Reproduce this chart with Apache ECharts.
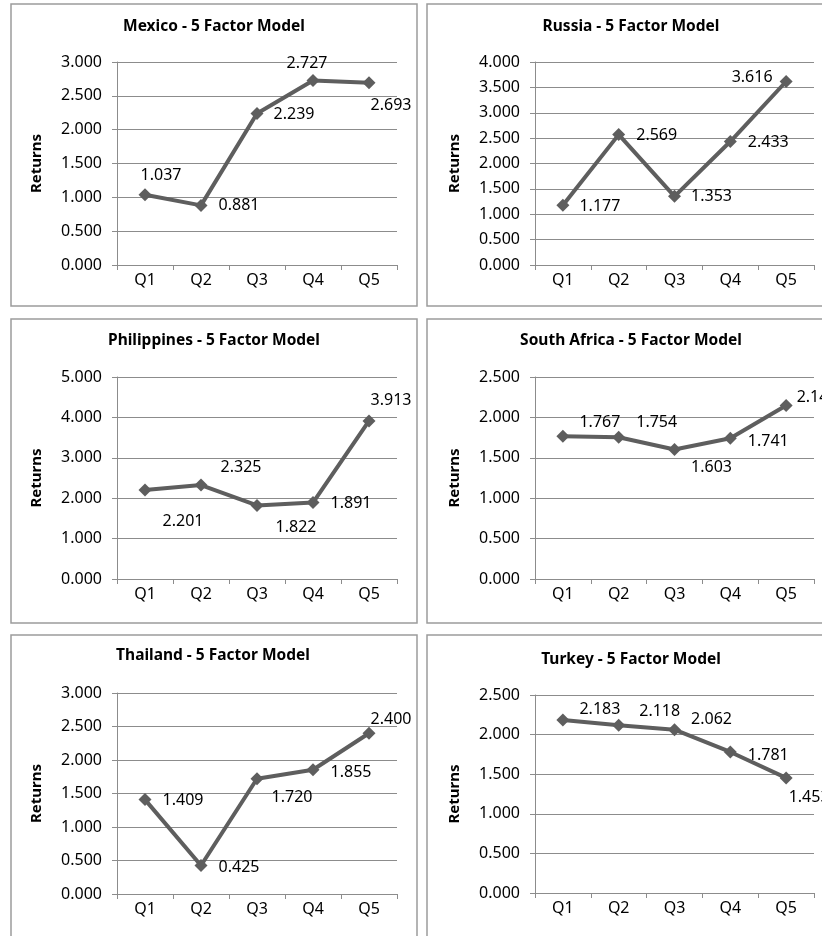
<!DOCTYPE html>
<html>
<head>
<meta charset="utf-8">
<title>5 Factor Model Returns</title>
<script src="https://cdn.jsdelivr.net/npm/echarts@6/dist/echarts.min.js"></script>
<style>
  html, body { margin: 0; padding: 0; background: #ffffff; }
  #chart { width: 822px; height: 936px; }
</style>
</head>
<body>
<div id="chart"></div>
<script>
// Quintile categories shared by every panel
const quintiles = ['Q1', 'Q2', 'Q3', 'Q4', 'Q5'];

// Returns by quintile for each country
const mexico = [1.037, 0.881, 2.239, 2.727, 2.693];
const russia = [1.177, 2.569, 1.353, 2.433, 3.616];
const philippines = [2.201, 2.325, 1.822, 1.891, 3.913];
const southAfrica = [1.767, 1.754, 1.603, 1.741, 2.147];
const thailand = [1.409, 0.425, 1.720, 1.855, 2.400];
const turkey = [2.183, 2.118, 2.062, 1.781, 1.453];

// Panel titles
const titles = [
  'Mexico - 5 Factor Model',
  'Russia - 5 Factor Model',
  'Philippines - 5 Factor Model',
  'South Africa - 5 Factor Model',
  'Thailand - 5 Factor Model',
  'Turkey - 5 Factor Model'
];

// Value-axis ranges: [max, interval]
const axisMax = [3, 4, 5, 2.5, 3, 2.5];
const axisStep = [0.5, 0.5, 1, 0.5, 0.5, 0.5];

const seriesData = [mexico, russia, philippines, southAfrica, thailand, turkey];

// Layout: panel frames and plot rectangles (pixels)
const frames = [
  { x: 11, y: 4, w: 406, h: 302 },
  { x: 427, y: 4, w: 408, h: 302 },
  { x: 11, y: 319, w: 406, h: 304 },
  { x: 427, y: 319, w: 408, h: 304 },
  { x: 11, y: 635, w: 406, h: 304 },
  { x: 427, y: 635, w: 408, h: 304 }
];
const plots = [
  { left: 117, top: 62, width: 280, height: 203 },
  { left: 535, top: 62, width: 279, height: 203 },
  { left: 117, top: 377, width: 280, height: 202 },
  { left: 535, top: 377, width: 279, height: 202 },
  { left: 117, top: 693, width: 280, height: 201 },
  { left: 535, top: 695, width: 279, height: 198 }
];
const titleCenters = [[214, 29], [631, 29], [214, 343], [631, 343], [213, 658], [631, 662]];

// Data-label offsets from each marker centre, per panel
const labelOffsets = [
  [[16, -19], [38, 0], [37, 1], [-6, -17], [22, 23]],
  [[37, 1], [38, 1], [37, 0], [38, 1], [-34, -4]],
  [[38, 31], [40, -18], [39, 22], [38, 1], [22, -20]],
  [[37, -14], [38, -15], [37, 18], [38, 3], [31, -8]],
  [[38, 1], [38, 2], [35, 19], [38, 3], [22, -14]],
  [[37, -11], [41, -14], [37, -10], [38, 3], [23, 20]]
];

const FONT = '"Noto Sans", "Open Sans", sans-serif';
const LINE_COLOR = '#5e5e5e';
const GRID_COLOR = '#8c8c8c';

const grids = [], xAxes = [], yAxes = [], series = [], titleOpts = [], graphics = [];

frames.forEach(function (f) {
  graphics.push({
    type: 'rect',
    shape: { x: f.x, y: f.y, width: f.w, height: f.h },
    style: { fill: 'none', stroke: '#9c9c9c', lineWidth: 1.5 },
    z: 0
  });
});

seriesData.forEach(function (values, i) {
  grids.push(Object.assign({ containLabel: false }, plots[i]));

  titleOpts.push({
    text: titles[i],
    left: titleCenters[i][0],
    top: titleCenters[i][1] - 10,
    textAlign: 'center',
    padding: 0,
    textStyle: { fontFamily: FONT, fontSize: 15.5, fontWeight: 'bold', color: '#000' }
  });

  xAxes.push({
    type: 'category',
    gridIndex: i,
    data: quintiles,
    boundaryGap: true,
    axisLine: { lineStyle: { color: GRID_COLOR, width: 1 } },
    axisTick: { show: true, length: 5, lineStyle: { color: GRID_COLOR } },
    axisLabel: { margin: 7, fontFamily: FONT, fontSize: 16, color: '#000' },
    splitLine: { show: false }
  });

  yAxes.push({
    type: 'value',
    gridIndex: i,
    min: 0,
    max: axisMax[i],
    interval: axisStep[i],
    name: 'Returns',
    nameLocation: 'middle',
    nameRotate: 90,
    nameGap: 73,
    nameTextStyle: { fontFamily: FONT, fontSize: 15, fontWeight: 'bold', color: '#000' },
    axisLine: { show: true, lineStyle: { color: GRID_COLOR, width: 1 } },
    axisTick: { show: true, length: 5, lineStyle: { color: GRID_COLOR } },
    axisLabel: {
      margin: 15,
      fontFamily: FONT,
      fontSize: 16,
      color: '#000',
      formatter: function (v) { return v.toFixed(3); }
    },
    splitLine: { show: true, lineStyle: { color: GRID_COLOR, width: 1 } }
  });

  series.push({
    type: 'line',
    xAxisIndex: i,
    yAxisIndex: i,
    data: values,
    symbol: 'diamond',
    symbolSize: 13,
    showAllSymbol: true,
    lineStyle: { color: LINE_COLOR, width: 4 },
    itemStyle: { color: LINE_COLOR },
    label: {
      show: true,
      position: 'inside',
      fontFamily: FONT,
      fontSize: 16,
      color: '#000',
      formatter: function (p) { return p.value.toFixed(3); }
    },
    // place each value label relative to its marker centre
    labelLayout: function (params) {
      const off = labelOffsets[i][params.dataIndex];
      const r = params.rect;
      return {
        x: r.x + r.width / 2 + off[0],
        y: r.y + r.height / 2 + off[1],
        align: 'center',
        verticalAlign: 'middle',
        hideOverlap: false
      };
    },
    animation: false,
    z: 3
  });
});

const chart = echarts.init(document.getElementById('chart'), null, { renderer: 'canvas' });
chart.setOption({
  backgroundColor: '#ffffff',
  animation: false,
  title: titleOpts,
  grid: grids,
  xAxis: xAxes,
  yAxis: yAxes,
  series: series,
  graphic: graphics
});
</script>
</body>
</html>
